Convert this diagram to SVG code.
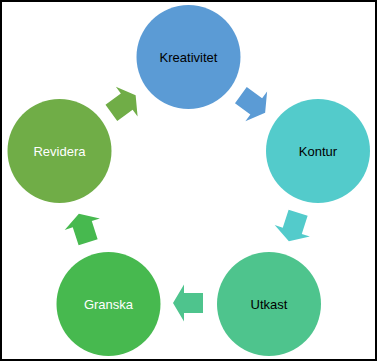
<svg xmlns="http://www.w3.org/2000/svg" width="377" height="361" viewBox="0 0 377 361">
<defs>
<style>
text{font-family:"Liberation Sans",Arial,sans-serif;font-size:13px;text-anchor:middle}
.dark{fill:#000}
.light{fill:#fff}
</style>
<polygon id="arr" points="-15,-10 4,-10 4,-18.5 15,0 4,18.5 4,10 -15,10"/>
</defs>
<rect x="1" y="1" width="375" height="359" fill="#fff" stroke="#000" stroke-width="2"/>
<g id="connectors">
<use href="#arr" fill="#5B9BD5" transform="translate(253,104) rotate(36)"/>
<use href="#arr" fill="#53CBCB" transform="translate(293.5,227) rotate(108)"/>
<use href="#arr" fill="#4EC48D" transform="translate(188,303) rotate(180)"/>
<use href="#arr" fill="#47B94F" transform="translate(83.5,228) rotate(252)"/>
<use href="#arr" fill="#70AD47" transform="translate(123.5,104) rotate(324)"/>
</g>
<g id="kreativitet">
<circle cx="188.5" cy="57" r="52" fill="#5B9BD5"/>
<text class="dark" x="188.5" y="61.5">Kreativitet</text>
</g>
<g id="kontur">
<circle cx="318" cy="151" r="52" fill="#53CBCB"/>
<text class="dark" x="318" y="155.5">Kontur</text>
</g>
<g id="utkast">
<circle cx="269" cy="304" r="52" fill="#4EC48D"/>
<text class="dark" x="269" y="308.5">Utkast</text>
</g>
<g id="granska">
<circle cx="108.5" cy="304" r="52" fill="#47B94F"/>
<text class="light" x="108.5" y="308.5">Granska</text>
</g>
<g id="revidera">
<circle cx="59.5" cy="151" r="52" fill="#70AD47"/>
<text class="light" x="59.5" y="155.5">Revidera</text>
</g>
</svg>
